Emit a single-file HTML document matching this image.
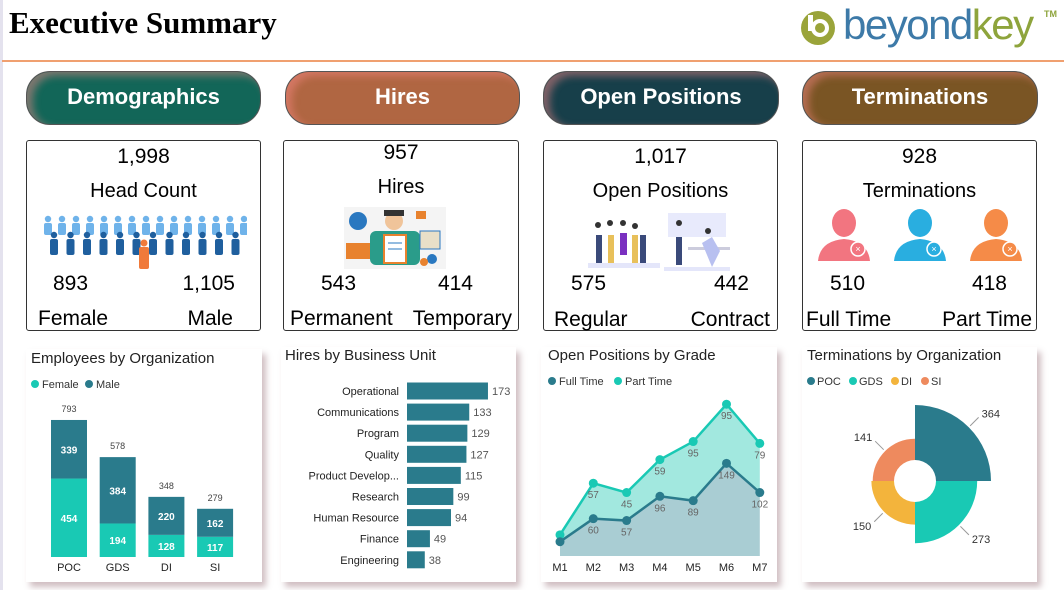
<!DOCTYPE html>
<html><head><meta charset="utf-8">
<style>
*{box-sizing:border-box;margin:0;padding:0}
body{width:1064px;height:590px;background:#fff;position:relative;overflow:hidden;font-family:"Liberation Sans",sans-serif;color:#000}
.abs{position:absolute}
.pill{position:absolute;top:71px;height:54px;border-radius:24px;color:#fff;font-weight:bold;font-size:22px;text-align:center;line-height:50px;box-shadow:inset 6px 4px 8px rgba(255,140,140,0.45);border:1px solid #555}
.card{position:absolute;top:140px;height:191px;border:1px solid #333;border-radius:3px;background:#fff}
.t{position:absolute;font-size:21px;white-space:nowrap;font-family:"Liberation Sans",sans-serif}
.panel{position:absolute;top:347px;height:235px;background:#fff;box-shadow:4px 5px 6px rgba(150,110,120,0.45)}
.ptitle{position:absolute;left:6px;top:2px;font-size:15px;color:#222}
</style></head><body>
<div class="abs" style="left:0;top:0;width:3px;height:590px;background:#e4e2ee"></div>
<div class="abs" style="left:9px;top:5px;font-family:'Liberation Serif',serif;font-weight:bold;font-size:31px">Executive Summary</div>
<div class="abs" style="left:2px;top:60px;width:1062px;height:2px;background:#f0a070"></div>
<div class="abs" style="left:798px;top:6px;width:262px;height:46px">
<svg width="40" height="46" style="position:absolute;left:0;top:0"><circle cx="20" cy="22" r="17" fill="#9aa43a"/><circle cx="22" cy="22" r="9" fill="#fff"/><circle cx="22" cy="22" r="5" fill="#9aa43a"/><rect x="10" y="9" width="5" height="16" fill="#fff"/></svg>
<span style="position:absolute;left:45px;top:-5px;font-size:42px;letter-spacing:-1.5px"><span style="color:#3d7aa8">beyond</span><span style="color:#8ea43c">key</span></span>
<span style="position:absolute;left:246px;top:3px;font-size:9px;color:#8ea43c;font-weight:bold">TM</span>
</div>

<div class="pill" style="left:26px;width:235px;background:#126658">Demographics</div>
<div class="pill" style="left:285px;width:235px;background:#b06642">Hires</div>
<div class="pill" style="left:543px;width:236px;background:#173f4a">Open Positions</div>
<div class="pill" style="left:802px;width:236px;background:#7a5524">Terminations</div>

<div class="card" style="left:26px;width:235px">
<div class="t" style="left:0;width:233px;text-align:center;top:4px">1,998</div>
<div class="t" style="left:0;width:233px;text-align:center;top:39px;font-size:20px">Head Count</div>
<svg id="crowd" class="abs" style="left:15px;top:68px" width="205" height="62"></svg>
<div class="t" style="left:26px;top:131px">893</div>
<div class="t" style="right:25px;top:131px">1,105</div>
<div class="t" style="left:11px;top:166px">Female</div>
<div class="t" style="right:27px;top:166px">Male</div>
</div>

<div class="card" style="left:283px;width:236px">
<div class="t" style="left:0;width:234px;text-align:center;top:0px">957</div>
<div class="t" style="left:0;width:234px;text-align:center;top:35px;font-size:20px">Hires</div>
<svg class="abs" style="left:60px;top:66px" width="102" height="62">
<rect width="102" height="62" fill="#f4f4f4"/><circle cx="14" cy="14" r="9" fill="#2a78c0"/><rect x="2" y="36" width="24" height="16" fill="#e8822e"/>
<rect x="26" y="24" width="50" height="34" rx="6" fill="#2a9c8a"/><circle cx="50" cy="14" r="9" fill="#f0c49a"/><rect x="40" y="3" width="20" height="6" fill="#333"/>
<rect x="40" y="28" width="22" height="28" fill="#fff" stroke="#e8822e" stroke-width="2"/><line x1="44" y1="36" x2="58" y2="36" stroke="#2a78c0"/><line x1="44" y1="42" x2="58" y2="42" stroke="#2a78c0"/>
<rect x="76" y="24" width="20" height="18" fill="#e8e0c8" stroke="#2a78c0"/><rect x="72" y="4" width="10" height="8" fill="#e8822e"/><circle cx="88" cy="52" r="5" fill="#2a78c0"/><circle cx="80" cy="55" r="4" fill="#e8822e"/></svg>
<div class="t" style="left:37px;top:131px">543</div>
<div class="t" style="right:45px;top:131px">414</div>
<div class="t" style="left:6px;top:166px">Permanent</div>
<div class="t" style="right:6px;top:166px">Temporary</div>
</div>

<div class="card" style="left:543px;width:235px">
<div class="t" style="left:0;width:233px;text-align:center;top:4px">1,017</div>
<div class="t" style="left:0;width:233px;text-align:center;top:39px;font-size:20px">Open Positions</div>
<svg class="abs" style="left:44px;top:72px" width="145" height="58">
<rect x="0" y="50" width="72" height="5" fill="#e4e6fa"/><rect x="80" y="0" width="58" height="24" fill="#e8eafc"/><rect x="76" y="54" width="66" height="4" fill="#e4e6fa"/>
<g fill="#3a4a7a"><rect x="8" y="22" width="6" height="28"/><rect x="52" y="22" width="6" height="28"/><rect x="88" y="24" width="6" height="28"/></g>
<g fill="#e8c05a"><rect x="20" y="22" width="6" height="28"/><rect x="44" y="22" width="6" height="28"/></g><rect x="32" y="20" width="7" height="22" fill="#7a30c0"/>
<g fill="#333"><circle cx="10" cy="12" r="3"/><circle cx="22" cy="10" r="3"/><circle cx="35" cy="10" r="3"/><circle cx="47" cy="13" r="3"/><circle cx="91" cy="10" r="3"/><circle cx="120" cy="18" r="3"/></g>
<rect x="100" y="34" width="42" height="3" fill="#ccd"/><path d="M114 30 l10 -6 l8 14 l-8 16" fill="#b8c0f0"/></svg>
<div class="t" style="left:27px;top:131px">575</div>
<div class="t" style="right:28px;top:131px">442</div>
<div class="t" style="left:10px;top:167px">Regular</div>
<div class="t" style="right:7px;top:167px">Contract</div>
</div>

<div class="card" style="left:802px;width:235px">
<div class="t" style="left:0;width:233px;text-align:center;top:4px">928</div>
<div class="t" style="left:0;width:233px;text-align:center;top:39px;font-size:20px">Terminations</div>
<svg class="abs" style="left:15px;top:68px" width="205" height="56">
<g id="heads"></g></svg>
<div class="t" style="left:27px;top:131px">510</div>
<div class="t" style="right:29px;top:131px">418</div>
<div class="t" style="left:3px;top:167px">Full Time</div>
<div class="t" style="right:4px;top:167px">Part Time</div>
</div>

<div class="panel" style="left:26px;width:236px;top:349px;height:233px">
<div class="ptitle" style="left:5px;top:1px">Employees by Organization</div>
</div>
<div class="panel" style="left:281px;width:235px"><div class="ptitle" style="left:4px;top:0">Hires by Business Unit</div></div>
<div class="panel" style="left:541px;width:236px"><div class="ptitle" style="left:7px;top:0">Open Positions by Grade</div></div>
<div class="panel" style="left:802px;width:235px"><div class="ptitle" style="left:5px;top:0">Terminations by Organization</div></div>

<svg id="charts" class="abs" style="left:0;top:0" width="1064" height="590" font-family="Liberation Sans, sans-serif"></svg>

<script>
// Chart 1 data
const orgCats=["POC","GDS","DI","SI"];
const femaleVals=[454,194,128,117];
const maleVals=[339,384,220,162];
// Chart 2 data
const buCats=["Operational","Communications","Program","Quality","Product Develop...","Research","Human Resource","Finance","Engineering"];
const buVals=[173,133,129,127,115,99,94,49,38];
// Chart 3 data
const gradeCats=["M1","M2","M3","M4","M5","M6","M7"];
const fullTimeVals=[23,60,57,96,89,149,102];
const partTimeVals=[11,57,45,59,95,95,79];
const fullTimeLabels=["","60","57","96","89","149","102"];
const partTimeLabels=["","57","45","59","95","95","79"];
// Chart 4 data
const termCats=["POC","GDS","DI","SI"];
const termVals=[364,273,150,141];

const NS="http://www.w3.org/2000/svg";
const svg=document.getElementById('charts');
function mk(tag,attrs,parent){const e=document.createElementNS(NS,tag);for(const k in attrs)e.setAttribute(k,attrs[k]);(parent||svg).appendChild(e);return e;}
function txt(x,y,s,attrs,parent){const e=mk('text',Object.assign({x:x,y:y},attrs),parent);e.textContent=s;return e;}
const TEAL="#19c9b4",DARK="#2a7b8c";

// crowd illustration
const crowd=document.getElementById('crowd');
for(let r=0;r<2;r++){for(let i=0;i<(r?12:15);i++){
 const x=r?8+i*16.5:2+i*14,y=r?26:10,c=r?"#1f5f9e":"#6fb3ea";
 const g=mk('g',{},crowd);
 
 
 mk('circle',{cx:x+4,cy:y,r:3.2,fill:c},g);mk('rect',{x:x,y:y+4,width:8,height:r?16:12,rx:2,fill:c},g);}}
const op=mk('g',{},crowd);


mk('circle',{cx:102,cy:34,r:3.5,fill:"#f07a3a"},op);mk('rect',{x:97,y:38,width:10,height:22,rx:2,fill:"#f07a3a"},op);

// termination heads
const heads=document.getElementById('heads');
["#f27580","#29aee0","#f58b48"].forEach((c,i)=>{const x=12+i*76;const g=mk('g',{},heads);
 
 
 mk('ellipse',{cx:x+14,cy:14,rx:12,ry:14,fill:c},g);
 mk('path',{d:`M${x-12} 52 Q${x-10} 32 ${x+14} 30 Q${x+38} 32 ${x+40} 52 Z`,fill:c},g);
 mk('circle',{cx:x+28,cy:40,r:7,fill:c,stroke:"#fff","stroke-width":1.5},g);
 txt(x+28,43,"×",{"text-anchor":"middle","font-size":9,fill:"#fff"},g);});

// ---- Chart 1: stacked columns
{const base=557,sc=0.1728,x0=51,step=48.7,bw=36;
 const lg=mk('g',{});
 mk('circle',{cx:35,cy:384,r:4,fill:TEAL},lg);txt(42,388,"Female",{"font-size":11,fill:"#333"},lg);
 mk('circle',{cx:89,cy:384,r:4,fill:DARK},lg);txt(96,388,"Male",{"font-size":11,fill:"#333"},lg);
 orgCats.forEach((c,i)=>{const x=x0+i*step,hf=femaleVals[i]*sc,hm=maleVals[i]*sc;
  const f=mk('rect',{x:x,y:base-hf,width:bw,height:hf,fill:TEAL});
  
  const m=mk('rect',{x:x,y:base-hf-hm,width:bw,height:hm,fill:DARK});
  
  txt(x+bw/2,base-hf/2+4,femaleVals[i],{"text-anchor":"middle","font-size":10,fill:"#fff","font-weight":"bold"});
  txt(x+bw/2,base-hf-hm/2+4,maleVals[i],{"text-anchor":"middle","font-size":10,fill:"#fff","font-weight":"bold"});
  txt(x+bw/2,base-hf-hm-8,femaleVals[i]+maleVals[i],{"text-anchor":"middle","font-size":9,fill:"#444"});
  txt(x+bw/2,571,c,{"text-anchor":"middle","font-size":11,fill:"#222"});});}

// ---- Chart 2: horizontal bars
{const x0=407,sc=0.468,y0=391,step=21.1,bh=17;
 buCats.forEach((c,i)=>{const y=y0+i*step,w=buVals[i]*sc;
  txt(399,y+4,c,{"text-anchor":"end","font-size":11,fill:"#222"});
  const b=mk('rect',{x:x0,y:y-bh/2,width:w,height:bh,fill:DARK});
  
  txt(x0+w+4,y+4,buVals[i],{"font-size":11,fill:"#555"});});}

// ---- Chart 3: stacked area
{const base=556,sc=0.622,x0=560,step=33.3;
 const lg=mk('g',{});
 mk('circle',{cx:552,cy:381,r:4,fill:DARK},lg);txt(559,385,"Full Time",{"font-size":11,fill:"#333"},lg);
 mk('circle',{cx:618,cy:381,r:4,fill:TEAL},lg);txt(625,385,"Part Time",{"font-size":11,fill:"#333"},lg);
 const X=i=>x0+i*step;
 const fy=gradeCats.map((c,i)=>base-fullTimeVals[i]*sc);
 const py=gradeCats.map((c,i)=>base-(fullTimeVals[i]+partTimeVals[i])*sc);
 let top=py.map((y,i)=>X(i)+","+y).join(" ");
 let mid=fy.map((y,i)=>X(i)+","+y).join(" ");
 const pa=mk('polygon',{points:top+" "+fy.map((y,i)=>X(i)+","+y).reverse().join(" "),fill:"#a2e8df"});
 
 const fa=mk('polygon',{points:mid+" "+X(6)+","+base+" "+X(0)+","+base,fill:"#a9cdd3"});
 
 const pl=mk('polyline',{points:top,fill:"none",stroke:TEAL,"stroke-width":2.5});
 
 const fl=mk('polyline',{points:mid,fill:"none",stroke:DARK,"stroke-width":2.5});
 
 gradeCats.forEach((c,i)=>{
  const p1=mk('circle',{cx:X(i),cy:py[i],r:4.5,fill:TEAL});
  const p2=mk('circle',{cx:X(i),cy:fy[i],r:4.5,fill:DARK});
  if(partTimeLabels[i])txt(X(i),py[i]+15,partTimeLabels[i],{"text-anchor":"middle","font-size":10,fill:"#666"});
  if(fullTimeLabels[i])txt(X(i),fy[i]+15,fullTimeLabels[i],{"text-anchor":"middle","font-size":10,fill:"#666"});
  txt(X(i),571,c,{"text-anchor":"middle","font-size":11,fill:"#222"});});}

// ---- Chart 4: rose / polar area
{const cx=915,cy=481,r0=21,sc=0.151,cols=["#2a7b8c","#19c9b4","#f3b43c","#ee8a5e"];
 const lg=mk('g',{});
 const lx=[811,853,895,925];
 termCats.forEach((c,i)=>{mk('circle',{cx:lx[i],cy:381,r:4,fill:cols[i]},lg);txt(lx[i]+6,385,c,{"font-size":11,fill:"#333"},lg);});
 termCats.forEach((c,i)=>{const R=r0+termVals[i]*sc,a0=-Math.PI/2+i*Math.PI/2,a1=a0+Math.PI/2;
  const p=(r,a)=>(cx+r*Math.cos(a)).toFixed(1)+" "+(cy+r*Math.sin(a)).toFixed(1);
  const s=mk('path',{d:`M${p(r0,a0)} L${p(R,a0)} A${R} ${R} 0 0 1 ${p(R,a1)} L${p(r0,a1)} A${r0} ${r0} 0 0 0 ${p(r0,a0)} Z`,fill:cols[i]});
  
  const am=(a0+a1)/2,ex=cx+(R+2)*Math.cos(am),ey=cy+(R+2)*Math.sin(am),lx2=cx+(R+14)*Math.cos(am),ly2=cy+(R+14)*Math.sin(am);
  mk('line',{x1:ex,y1:ey,x2:lx2,y2:ly2,stroke:"#999","stroke-width":1});
  const right=Math.cos(am)>0;
  txt(lx2+(right?3:-3),ly2+(Math.sin(am)>0?8:0),termVals[i],{"text-anchor":right?"start":"end","font-size":11,fill:"#333"});});}
</script>
</body></html>
